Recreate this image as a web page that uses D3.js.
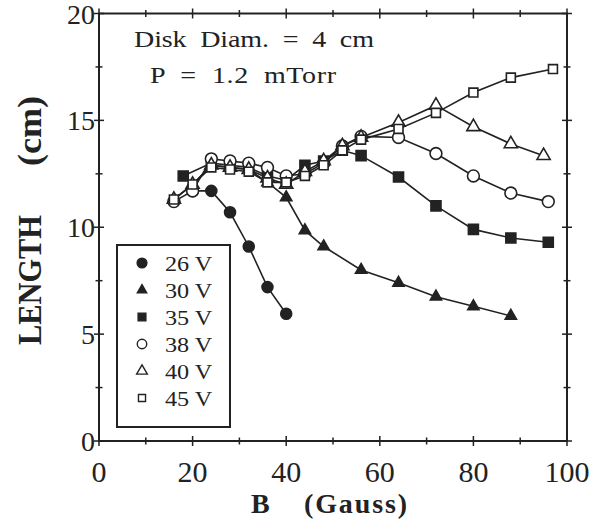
<!DOCTYPE html>
<html>
<head>
<meta charset="utf-8">
<script src="https://cdn.jsdelivr.net/npm/d3@7.9.0/dist/d3.min.js"></script>
<style>
  body { margin: 0; background: #fff; }
  svg { display: block; font-family: "Liberation Serif", "DejaVu Serif", serif; }
</style>
</head>
<body>
<svg id="chart" width="590" height="526"></svg>
<script>
// B field (Gauss) and plume length (cm), one pair of arrays per discharge voltage
const b26 = [20, 24, 28, 32, 36, 40];
const len26 = [11.7, 11.7, 10.7, 9.1, 7.2, 5.95];

const b30 = [16, 20, 24, 28, 32, 36, 40, 44, 48, 56, 64, 72, 80, 88];
const len30 = [11.3, 12.0, 12.9, 12.8, 12.7, 12.1, 11.4, 9.85, 9.1, 8.0, 7.4, 6.75, 6.3, 5.85];

const b35 = [18, 24, 28, 32, 36, 40, 44, 48, 52, 56, 64, 72, 80, 88, 96];
const len35 = [12.4, 13.0, 12.9, 12.8, 12.4, 12.2, 12.9, 13.1, 13.6, 13.35, 12.35, 11.0, 9.9, 9.5, 9.3];

const b38 = [16, 20, 24, 28, 32, 36, 40, 44, 48, 52, 56, 64, 72, 80, 88, 96];
const len38 = [11.2, 11.7, 13.2, 13.1, 13.0, 12.8, 12.4, 12.5, 13.0, 13.8, 14.25, 14.2, 13.45, 12.4, 11.6, 11.2];

const b40 = [16, 20, 24, 28, 32, 36, 40, 44, 48, 52, 56, 64, 72, 80, 88, 95];
const len40 = [11.3, 12.0, 12.9, 12.8, 12.7, 12.3, 12.0, 12.6, 13.1, 13.8, 14.2, 14.9, 15.7, 14.7, 13.9, 13.35];

const b45 = [16, 20, 24, 28, 32, 36, 40, 44, 48, 52, 56, 64, 72, 80, 88, 97];
const len45 = [11.3, 12.0, 12.8, 12.7, 12.6, 12.1, 12.1, 12.4, 12.9, 13.6, 14.1, 14.6, 15.35, 16.3, 17.0, 17.4];

const seriesLabels = ['26 V', '30 V', '35 V', '38 V', '40 V', '45 V'];
const xTicks = [0, 20, 40, 60, 80, 100];
const yTicks = [0, 5, 10, 15, 20];

// marker style per series
const markers = [
  { shape: d3.symbolCircle, fill: true, size: 95, legSize: 75 },
  { shape: d3.symbolTriangle, fill: true, size: 55, legSize: 38 },
  { shape: d3.symbolSquare, fill: true, size: 100, legSize: 60 },
  { shape: d3.symbolCircle, fill: false, size: 110, legSize: 70 },
  { shape: d3.symbolTriangle, fill: false, size: 75, legSize: 50 },
  { shape: d3.symbolSquare, fill: false, size: 80, legSize: 50 },
];

const series = [
  [b26, len26], [b30, len30], [b35, len35], [b38, len38], [b40, len40], [b45, len45]
].map(([b, l], i) => ({ label: seriesLabels[i], pts: b.map((v, j) => [v, l[j]]), m: markers[i] }));

const svg = d3.select('#chart');
const plotLeft = 99, plotRight = 567, plotTop = 13.5, plotBottom = 441;
const ink = '#222';

const x = d3.scaleLinear().domain([0, 100]).range([plotLeft, plotRight]);
const y = d3.scaleLinear().domain([0, 20]).range([plotBottom, plotTop]);

// frame
svg.append('rect')
  .attr('x', plotLeft).attr('y', plotTop)
  .attr('width', plotRight - plotLeft).attr('height', plotBottom - plotTop)
  .attr('fill', 'none').attr('stroke', ink).attr('stroke-width', 2);

// ticks crossing all four sides
const ax = svg.append('g').attr('stroke', ink).attr('stroke-width', 1.5);
d3.range(0, 101, 10).forEach(v => {
  const len = v % 20 === 0 ? 5 : 3.5;
  ax.append('line').attr('x1', x(v)).attr('x2', x(v)).attr('y1', plotBottom - len).attr('y2', plotBottom + len);
  ax.append('line').attr('x1', x(v)).attr('x2', x(v)).attr('y1', plotTop - len).attr('y2', plotTop + len);
});
d3.range(0, 20.1, 2.5).forEach(v => {
  const len = v % 5 === 0 ? 5 : 3.5;
  ax.append('line').attr('y1', y(v)).attr('y2', y(v)).attr('x1', plotLeft - len).attr('x2', plotLeft + len);
  ax.append('line').attr('y1', y(v)).attr('y2', y(v)).attr('x1', plotRight - len).attr('x2', plotRight + len);
});

// tick labels
svg.append('g').selectAll('text').data(xTicks).join('text')
  .attr('x', d => x(d)).attr('y', plotBottom + 41)
  .attr('text-anchor', 'middle').attr('font-size', 30).attr('fill', ink)
  .text(d => d);
svg.append('g').selectAll('text').data(yTicks).join('text')
  .attr('x', plotLeft - 4).attr('y', d => y(d) + 10)
  .attr('text-anchor', 'end').attr('font-size', 28).attr('fill', ink)
  .text(d => d);

// axis titles (the scan is wider than tall, so glyphs get a little stretch)
svg.append('text')
  .attr('transform', 'translate(41,345) rotate(-90) scale(1,1.15)')
  .attr('font-size', 30).attr('font-weight', 'bold').attr('fill', ink)
  .attr('textLength', 130).attr('lengthAdjust', 'spacingAndGlyphs')
  .text('LENGTH');
svg.append('text')
  .attr('transform', 'translate(41,166) rotate(-90) scale(1,1.15)')
  .attr('font-size', 30).attr('font-weight', 'bold').attr('fill', ink)
  .attr('textLength', 70).attr('lengthAdjust', 'spacingAndGlyphs')
  .text('(cm)');
svg.append('text').attr('x', 251).attr('y', 513)
  .attr('font-size', 28).attr('font-weight', 'bold').attr('fill', ink).text('B');
svg.append('text').attr('x', 304).attr('y', 513)
  .attr('font-size', 28).attr('font-weight', 'bold').attr('fill', ink)
  .attr('textLength', 103).attr('lengthAdjust', 'spacing').text('(Gauss)');

// annotation
const sx = 1.22;
svg.append('text').attr('transform', `translate(134,47) scale(${sx},1)`)
  .attr('font-size', 23).attr('fill', ink).attr('xml:space', 'preserve')
  .attr('textLength', 240 / sx).attr('lengthAdjust', 'spacing')
  .text('Disk  Diam.  =  4  cm');
svg.append('text').attr('transform', `translate(150,83) scale(${sx},1)`)
  .attr('font-size', 23).attr('fill', ink).attr('xml:space', 'preserve')
  .attr('textLength', 186 / sx).attr('lengthAdjust', 'spacing')
  .text('P  =  1.2  mTorr');

// series
const line = d3.line().x(d => x(d[0])).y(d => y(d[1]));
series.forEach(s => {
  const g = svg.append('g');
  g.append('path').attr('d', line(s.pts))
    .attr('fill', 'none').attr('stroke', ink).attr('stroke-width', 1.6);
  g.selectAll('path.mk').data(s.pts).join('path').attr('class', 'mk')
    .attr('transform', d => `translate(${x(d[0])},${y(d[1])})`)
    .attr('d', d3.symbol().type(s.m.shape).size(s.m.size))
    .attr('fill', s.m.fill ? ink : '#fff')
    .attr('stroke', ink).attr('stroke-width', 1.6);
});

// legend
svg.append('rect').attr('x', 117).attr('y', 245).attr('width', 113).attr('height', 182)
  .attr('fill', '#fff').attr('stroke', ink).attr('stroke-width', 2);
const legY = d3.scalePoint().domain(seriesLabels).range([263, 398]);
series.forEach(s => {
  svg.append('path')
    .attr('transform', `translate(142,${legY(s.label)})`)
    .attr('d', d3.symbol().type(s.m.shape).size(s.m.legSize))
    .attr('fill', s.m.fill ? ink : '#fff')
    .attr('stroke', ink).attr('stroke-width', 1.4);
  svg.append('text').attr('transform', `translate(165,${legY(s.label) + 8}) scale(1.1,1)`)
    .attr('font-size', 22).attr('fill', ink).text(s.label);
});
</script>
</body>
</html>
